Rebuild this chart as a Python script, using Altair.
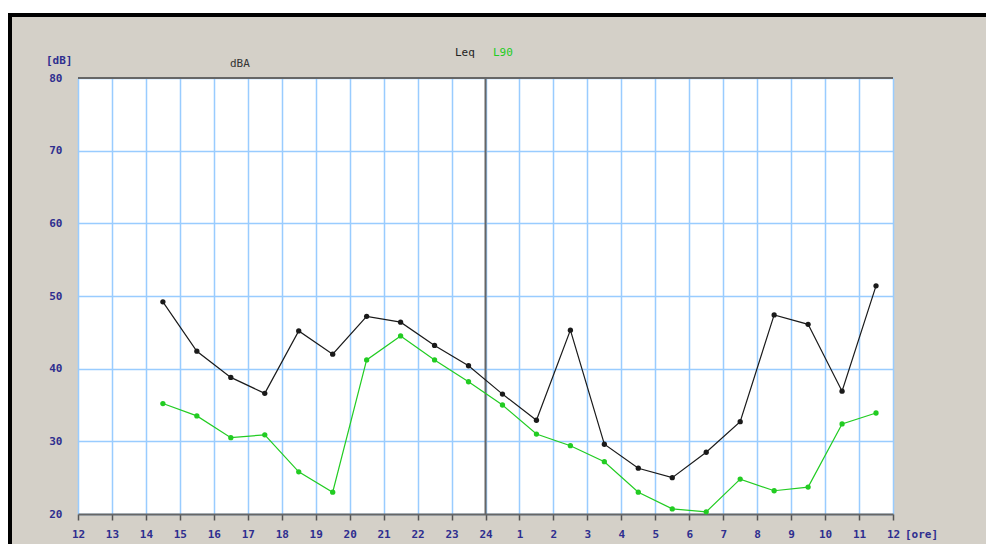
import altair as alt
import pandas as pd

# clock hours of each measurement (half-hour centres)
hours = [14.5, 15.5, 16.5, 17.5, 18.5, 19.5, 20.5, 21.5, 22.5, 23.5,
         0.5, 1.5, 2.5, 3.5, 4.5, 5.5, 6.5, 7.5, 8.5, 9.5, 10.5, 11.5]
leq = [49.2, 42.4, 38.8, 36.6, 45.2, 42.0, 47.2, 46.4, 43.2, 40.4,
       36.5, 32.9, 45.3, 29.6, 26.3, 25.0, 28.5, 32.7, 47.4, 46.1, 36.9, 51.4]
l90 = [35.2, 33.5, 30.5, 30.9, 25.8, 23.0, 41.2, 44.5, 41.2, 38.2,
       35.0, 31.0, 29.4, 27.2, 23.0, 20.7, 20.3, 24.8, 23.2, 23.7, 32.4, 33.9]
x_ticks = list(range(12, 37))
y_ticks = [20, 30, 40, 50, 60, 70, 80]
series_names = ["Leq", "L90"]
series_colors = ["#1a1a1a", "#22cc22"]

pos = [h if h >= 12 else h + 24 for h in hours]
df = pd.DataFrame({
    "pos": pos * 2,
    "value": leq + l90,
    "series": ["Leq"] * len(leq) + ["L90"] * len(l90),
})

FONT = "DejaVu Sans Mono"
LBL = "#2e2e8f"

xscale = alt.Scale(domain=[12, 36], nice=False)
yscale = alt.Scale(domain=[20, 80], nice=False, zero=False)

xaxis = alt.Axis(values=x_ticks, labelExpr="datum.value <= 24 ? datum.value : datum.value - 24",
                 grid=True, gridColor="#99ccff", gridWidth=1.5, gridOpacity=1,
                 domainColor="#666666", domainWidth=2, tickColor="#555555", tickSize=6,
                 tickWidth=1.5, labelColor=LBL, labelFont=FONT, labelFontSize=11,
                 labelFontWeight="bold", labelPadding=8, title=None, labelFlush=False,
                 labelOverlap=False)
yaxis = alt.Axis(values=y_ticks, grid=True, gridColor="#99ccff", gridWidth=1.5, gridOpacity=1,
                 domain=False, ticks=False, labelColor=LBL, labelFont=FONT, labelFontSize=11,
                 labelFontWeight="bold", labelPadding=16, title=None, labelFlush=False,
                 labelOverlap=False)

color = alt.Color("series:N", scale=alt.Scale(domain=series_names, range=series_colors), legend=None)

base = alt.Chart(df).encode(
    x=alt.X("pos:Q", scale=xscale, axis=xaxis),
    y=alt.Y("value:Q", scale=yscale, axis=yaxis),
    color=color,
    detail="series:N",
)
lines = base.mark_line(strokeWidth=1.2)
points = base.mark_circle(size=28, opacity=1)

top_rule = alt.Chart(pd.DataFrame({"v": [80]})).mark_rule(color="#666666", strokeWidth=2).encode(
    y=alt.Y("v:Q", scale=yscale, axis=yaxis))
mid_rule = alt.Chart(pd.DataFrame({"h": [24]})).mark_rule(color="#666666", strokeWidth=2).encode(
    x=alt.X("h:Q", scale=xscale, axis=xaxis))

def txt(s, x, y, col, align="left", size=11, weight="normal"):
    return alt.Chart(pd.DataFrame({"t": [s]})).mark_text(
        align=align, baseline="middle", font=FONT, fontSize=size, color=col, fontWeight=weight
    ).encode(x=alt.value(x), y=alt.value(y), text="t:N")

texts = [
    txt("[dB]", -32, -17, LBL, weight="bold"),
    txt("dBA", 152, -14, "#333333"),
    txt("Leq", 377, -25, "#222222"),
    txt("L90", 415, -25, "#22cc22"),
    txt("[ore]", 827, 457, LBL, weight="bold"),
]

frame_white = alt.Chart(pd.DataFrame({"a": [0]})).mark_rule(color="white", strokeWidth=5).encode(
    x=alt.value(-70), x2=alt.value(910), y=alt.value(-67.5))
frame_top = alt.Chart(pd.DataFrame({"a": [0]})).mark_rule(color="#000000", strokeWidth=4).encode(
    x=alt.value(-70), x2=alt.value(910), y=alt.value(-63))
frame_left = alt.Chart(pd.DataFrame({"a": [0]})).mark_rule(color="#000000", strokeWidth=4).encode(
    x=alt.value(-68), y=alt.value(-65), y2=alt.value(470))

chart = alt.layer(
    top_rule, mid_rule, lines, points, frame_white, frame_top, frame_left, *texts
).properties(
    width=815, height=436,
    padding={"left": 70, "top": 70, "right": 93, "bottom": 30},
    autosize=alt.AutoSizeParams(type="none"),
    background="#d4d0c8",
).configure_view(fill="white", stroke=None)

chart.save("out.html", embed_options={"renderer": "svg", "actions": False})
